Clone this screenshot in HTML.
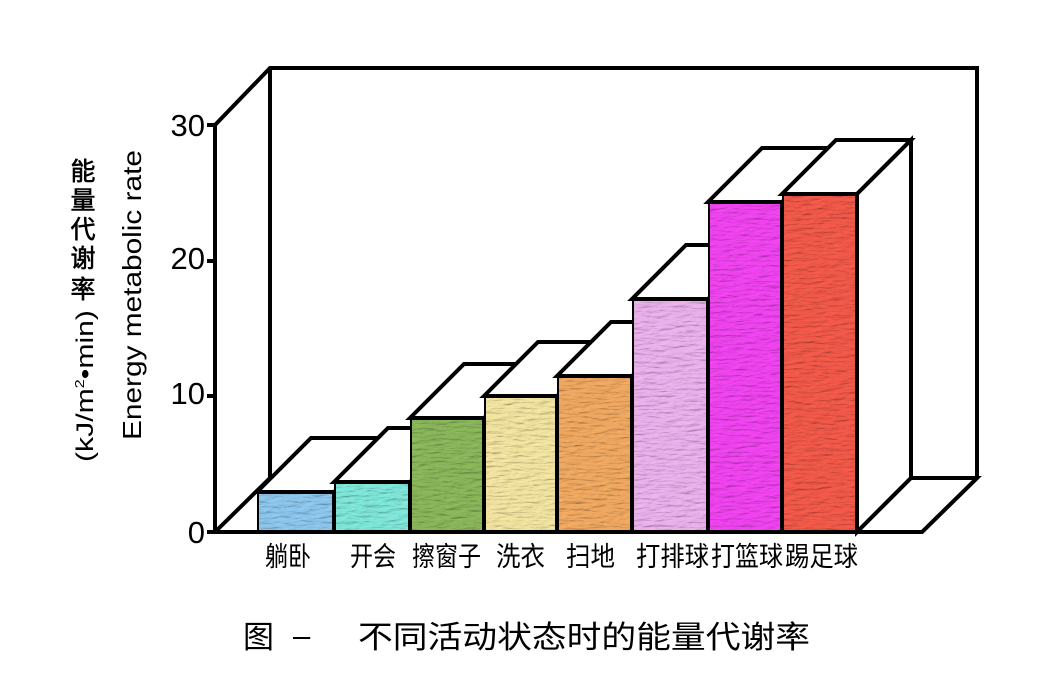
<!DOCTYPE html>
<html><head><meta charset="utf-8"><style>
html,body{margin:0;padding:0;background:#fff;}
svg{display:block;}
text{font-family:"Liberation Sans","Noto Sans CJK SC",sans-serif;fill:#000;}
</style></head><body>
<svg width="1050" height="700" viewBox="0 0 1050 700" xmlns="http://www.w3.org/2000/svg">
<defs>
<filter id="tex" x="0" y="0" width="100%" height="100%">
<feTurbulence type="fractalNoise" baseFrequency="0.06 0.3" numOctaves="3" seed="3" result="n"/>
<feDiffuseLighting in="n" surfaceScale="1.5" lighting-color="#fff" result="l"><feDistantLight azimuth="45" elevation="65"/></feDiffuseLighting>
<feComposite in="SourceGraphic" in2="l" operator="arithmetic" k1="1.05" k2="0" k3="0" k4="0"/>
</filter>
</defs>
<g stroke="#000" stroke-width="4" fill="none" stroke-linejoin="miter">
<polyline points="215,125 270,68 977,68 977,478 922,532"/>
<line x1="270" y1="68" x2="270" y2="478"/>
<line x1="215" y1="532" x2="270" y2="478"/>
<line x1="270" y1="478" x2="977" y2="478"/>
<line x1="215" y1="125" x2="215" y2="532"/>
<line x1="207" y1="532" x2="922" y2="532"/>
<line x1="207" y1="125" x2="215" y2="125"/>
<line x1="207" y1="261" x2="215" y2="261"/>
<line x1="207" y1="396" x2="215" y2="396"/>
</g>
<g stroke="#000" stroke-width="4" stroke-linejoin="miter">
<g fill="#fff">
<polygon points="257,492 311,438 388,438 334,492"/>
<polygon points="334,482 388,428 464,428 410,482"/>
<polygon points="410,418 464,364 538,364 484,418"/>
<polygon points="484,396 538,342 611,342 557,396"/>
<polygon points="557,376 611,322 686,322 632,376"/>
<polygon points="632,299 686,245 762,245 708,299"/>
<polygon points="708,202 762,148 836,148 782,202"/>
<polygon points="782,194 836,140 911,140 857,194"/>
<polygon points="857,194 911,140 911,478 857,532"/>
<polygon points="857,532 911,478 977,478 922,532"/>
</g>
<rect x="257" y="492" width="77" height="40" fill="#8ec8ef" filter="url(#tex)"/>
<rect x="334" y="482" width="76" height="50" fill="#80e8da" filter="url(#tex)"/>
<rect x="410" y="418" width="74" height="114" fill="#8cb85c" filter="url(#tex)"/>
<rect x="484" y="396" width="73" height="136" fill="#f4e6a2" filter="url(#tex)"/>
<rect x="557" y="376" width="75" height="156" fill="#f2aa62" filter="url(#tex)"/>
<rect x="632" y="299" width="76" height="233" fill="#ecb2ee" filter="url(#tex)"/>
<rect x="708" y="202" width="74" height="330" fill="#f244f2" filter="url(#tex)"/>
<rect x="782" y="194" width="75" height="338" fill="#f45a4a" filter="url(#tex)"/>
</g>
<line x1="207" y1="532" x2="860" y2="532" stroke="#000" stroke-width="4"/>
<g font-size="31" text-anchor="end">
<text x="205" y="543">0</text>
<text x="205" y="404">10</text>
<text x="205" y="269">20</text>
<text x="205" y="136">30</text>
</g>
<text transform="translate(141,440) rotate(-90)" font-size="26" textLength="290" lengthAdjust="spacingAndGlyphs">Energy metabolic rate</text>
<text transform="translate(93,462) rotate(-90)" font-size="24" textLength="152" lengthAdjust="spacingAndGlyphs">(kJ/m<tspan font-size="13" dy="-9">2</tspan><tspan dy="9">•min)</tspan></text>
<g font-size="25" text-anchor="middle" stroke="#000" stroke-width="0.6">
<text x="83" y="180">能</text>
<text x="83" y="209">量</text>
<text x="83" y="238">代</text>
<text x="83" y="267">谢</text>
<text x="83" y="298">率</text>
</g>
<g font-size="27">
<text x="265" y="566" textLength="46" lengthAdjust="spacingAndGlyphs">躺卧</text>
<text x="350" y="566" textLength="46" lengthAdjust="spacingAndGlyphs">开会</text>
<text x="412" y="566" textLength="69" lengthAdjust="spacingAndGlyphs">擦窗子</text>
<text x="496" y="566" textLength="49" lengthAdjust="spacingAndGlyphs">洗衣</text>
<text x="566" y="566" textLength="49" lengthAdjust="spacingAndGlyphs">扫地</text>
<text x="636" y="566" textLength="73" lengthAdjust="spacingAndGlyphs">打排球</text>
<text x="711" y="566" textLength="72" lengthAdjust="spacingAndGlyphs">打篮球</text>
<text x="785" y="566" textLength="73" lengthAdjust="spacingAndGlyphs">踢足球</text>
</g>
<g font-size="31">
<text x="243" y="648">图</text>
<text x="293" y="646">–</text>
<text x="358" y="648" textLength="452" lengthAdjust="spacingAndGlyphs">不同活动状态时的能量代谢率</text>
</g>
</svg>
</body></html>
